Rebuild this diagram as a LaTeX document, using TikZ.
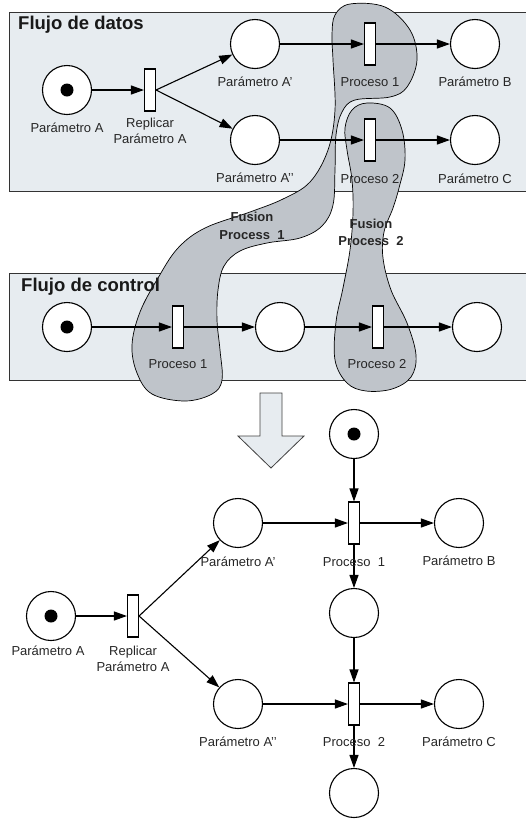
\documentclass[tikz,border=0pt]{standalone}
\usepackage{fontspec}
\setmainfont{Liberation Sans}
\usetikzlibrary{
  arrows.meta,
  positioning
}

\definecolor{boxfill}{RGB}{231,236,240}
\definecolor{blobfill}{RGB}{191,196,202}

\tikzset{
  place/.style={circle, draw, line width=1.1pt, fill=white, minimum size=49pt, inner sep=0pt},
  tok/.style={circle, fill=black, minimum size=13pt, inner sep=0pt},
  trans/.style={rectangle, draw, line width=1.1pt, fill=white, minimum width=11pt, minimum height=42pt, inner sep=0pt},
  arc/.style={line width=1.1pt, -{Triangle[length=13pt,width=9pt]}},
  lbl/.style={font=\fontsize{13}{16}\selectfont, text=black!85, align=center, inner sep=0pt},
  title/.style={font=\fontsize{18.5}{20}\selectfont\bfseries, text=black!90, anchor=west, inner sep=0pt},
  fusion/.style={font=\fontsize{13}{17.5}\selectfont\bfseries, text=black!85, align=center, inner sep=0pt},
  panel/.style={draw=black!80, line width=0.9pt, fill=boxfill},
  blob/.style={draw, line width=0.7pt, fill=blobfill}
}

\begin{document}
\begin{tikzpicture}[x=1pt,y=-1pt]
  \useasboundingbox (0,0) rectangle (526,820);

  % panels
  \draw[panel] (9,12) rectangle (540,191);
  \draw[panel] (9,273) rectangle (540,380);

  % fusion regions
  \filldraw[blob] plot[smooth cycle, tension=0.6] coordinates {
    (335,15) (350,4) (385,7) (410,30) (417,60) (407,87) (390,97) (355,100)
    (342,112) (336,135) (335,170) (333,205) (322,226) (300,238) (267,243)
    (240,251) (224,266) (218,290) (217,320) (220,350) (222,380) (212,394)
    (185,401) (152,394) (137,373) (132,345) (140,312) (158,278) (178,248)
    (205,228) (250,212) (283,199) (310,182) (328,150) (335,110) (333,60) (332,35)};
  \filldraw[blob] plot[smooth cycle, tension=0.6] coordinates {
    (367,103) (390,108) (402,130) (405,160) (399,188) (393,208) (384,232)
    (383,258) (391,290) (407,323) (416,355) (411,377) (392,389) (366,391)
    (347,383) (335,360) (336,322) (343,288) (350,250) (353,213) (352,180)
    (347,150) (345,128) (352,110)};

  \node[title] (tData) at (18,25) {Flujo de datos};
  \node[title] (tCtrl) at (21,287) {Flujo de control};
  \node[fusion] (fus1) at (252,226) {Fusion\\Process~~1};
  \node[fusion] (fus2) at (371,232.5) {Fusion\\Process~~2};

  % data flow
  \node[place] (pA) at (67,90) {};
  \node[tok] (pAtok) at (pA) {};
  \node[trans] (tRep) at (150,90) {};
  \node[place] (pA1) at (255,44) {};
  \node[place] (pA2) at (255,140) {};
  \node[trans] (tP1) at (370,44) {};
  \node[trans] (tP2) at (370,140) {};
  \node[place] (pB) at (475,44) {};
  \node[place] (pC) at (475,140) {};
  \draw[arc] (pA) -- (tRep);
  \draw[arc] (tRep.east) -- (pA1);
  \draw[arc] (tRep.east) -- (pA2);
  \draw[arc] (pA1) -- (tP1);
  \draw[arc] (tP1) -- (pB);
  \draw[arc] (pA2) -- (tP2);
  \draw[arc] (tP2) -- (pC);
  \node[lbl] (lA) at (67,128) {Parámetro A};
  \node[lbl] (lRep) at (150,130.5) {Replicar\\Parámetro A};
  \node[lbl] (lA1) at (255,82) {Parámetro A'};
  \node[lbl] (lA2) at (255,178) {Parámetro A'{}'};
  \node[lbl] (lP1) at (370,82) {Proceso 1};
  \node[lbl] (lP2) at (370,179) {Proceso 2};
  \node[lbl] (lB) at (475,82) {Parámetro B};
  \node[lbl] (lC) at (475,179) {Parámetro C};

  % control flow
  \node[place] (cA) at (67,327) {};
  \node[tok] (cAtok) at (cA) {};
  \node[trans] (cT1) at (178,327) {};
  \node[place] (cM) at (280,327) {};
  \node[trans] (cT2) at (378,327) {};
  \node[place] (cE) at (477,327) {};
  \draw[arc] (cA) -- (cT1);
  \draw[arc] (cT1) -- (cM);
  \draw[arc] (cM) -- (cT2);
  \draw[arc] (cT2) -- (cE);
  \node[lbl] (lcT1) at (178,364) {Proceso 1};
  \node[lbl] (lcT2) at (377,364) {Proceso 2};

  % big arrow
  \filldraw[fill=boxfill, draw=black!75, line width=0.8pt]
    (260,393) -- (282,393) -- (282,436) -- (304,436) -- (271,468)
    -- (238,436) -- (260,436) -- cycle;

  % merged net
  \node[place] (mTok) at (354,434) {};
  \node[tok] (mToktok) at (mTok) {};
  \node[place] (mA1) at (238,523) {};
  \node[trans] (mT1) at (354,523) {};
  \node[place] (mB) at (459,523) {};
  \node[place] (mMid) at (354,613) {};
  \node[place] (mA) at (51,616) {};
  \node[tok] (mAtok) at (mA) {};
  \node[trans] (mRep) at (133,616) {};
  \node[place] (mA2) at (238,704) {};
  \node[trans] (mT2) at (354,704) {};
  \node[place] (mC) at (459,704) {};
  \node[place] (mEnd) at (354,793) {};
  \draw[arc] (mTok) -- (mT1);
  \draw[arc] (mA1) -- (mT1);
  \draw[arc] (mT1) -- (mB);
  \draw[arc] (mT1) -- (mMid);
  \draw[arc] (mA) -- (mRep);
  \draw[arc] (mRep.east) -- (mA1);
  \draw[arc] (mRep.east) -- (mA2);
  \draw[arc] (mMid) -- (mT2);
  \draw[arc] (mA2) -- (mT2);
  \draw[arc] (mT2) -- (mC);
  \draw[arc] (mT2) -- (mEnd);
  \node[lbl] (lmA1) at (238,562) {Parámetro A'};
  \node[lbl] (lmT1) at (354,562) {Proceso~~1};
  \node[lbl] (lmB) at (459,561) {Parámetro B};
  \node[lbl] (lmA) at (48,651) {Parámetro A};
  \node[lbl] (lmRep) at (133,658.5) {Replicar\\Parámetro A};
  \node[lbl] (lmA2) at (238,742) {Parámetro A'{}'};
  \node[lbl] (lmT2) at (354,742) {Proceso~~2};
  \node[lbl] (lmC) at (459,742) {Parámetro C};
\end{tikzpicture}
\end{document}
